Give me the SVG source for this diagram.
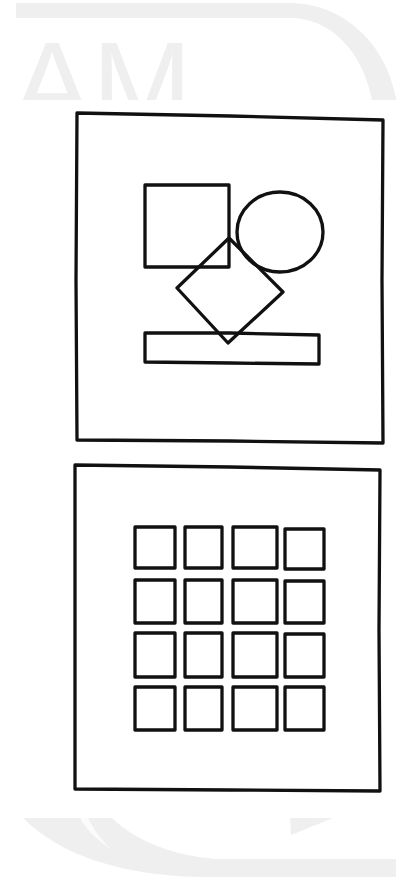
<svg xmlns="http://www.w3.org/2000/svg" width="396" height="877" viewBox="0 0 396 877">
<style>
.wm{fill:#efefef;stroke:none}
.ink{fill:none;stroke:#111;stroke-width:3.3;stroke-linejoin:round;stroke-linecap:round}
</style>
<defs>
<clipPath id="topclip"><rect x="0" y="0" width="396" height="100"/></clipPath>
</defs>
<rect width="396" height="877" fill="#ffffff"/>
<g id="watermark">
<path class="wm" d="M16 3 H290 C340 3 385 40 396 98 V100 H372 C362 50 330 18 290 18 H16 Z"/>
<g clip-path="url(#topclip)">
<text x="12" y="126" font-family="Liberation Sans, Arial, sans-serif" font-size="120" fill="#efefef">AM</text>
</g>
<path class="wm" d="M23 818 H112 C135 840 170 855 215 859 H396 V877 H200 C120 875 60 855 23 818 Z"/>
<path fill="#fbfbfb" d="M80 818 H88 C95 832 103 842 112 850 C100 842 88 832 80 818 Z"/>
<path class="wm" d="M290 818 H333 L291 835 Z"/>
</g>
<g id="frame-top">
<path class="ink" d="M77 113 L230 116 L383 120 L382 280 L383 443 L230 441 L77 440 L76 280 Z"/>
</g>
<g id="square">
<path class="ink" d="M145 185 L229 185 L229 267 L145 267 Z"/>
</g>
<g id="circle">
<ellipse class="ink" cx="280" cy="232" rx="43" ry="40"/>
</g>
<g id="diamond">
<path class="ink" d="M229 238 L283 292 L228 343 L177 288 Z"/>
</g>
<g id="bar">
<path class="ink" d="M145 333 L230 333 L319 335 L319 364 L230 363 L145 362 Z"/>
</g>
<g id="frame-bottom">
<path class="ink" d="M75 465 L230 467 L380 470 L379 630 L380 791 L230 790 L75 789 L75 630 Z"/>
</g>
<g id="grid">
<rect class="ink" x="135" y="527" width="40" height="41"/>
<rect class="ink" x="185" y="527" width="37" height="41"/>
<rect class="ink" x="233" y="527" width="44" height="41"/>
<rect class="ink" x="285" y="529" width="39" height="40"/>
<rect class="ink" x="135" y="580" width="40" height="43"/>
<rect class="ink" x="185" y="580" width="37" height="43"/>
<rect class="ink" x="233" y="580" width="44" height="43"/>
<rect class="ink" x="285" y="581" width="39" height="42"/>
<rect class="ink" x="135" y="633" width="40" height="44"/>
<rect class="ink" x="185" y="633" width="37" height="44"/>
<rect class="ink" x="233" y="633" width="44" height="44"/>
<rect class="ink" x="285" y="634" width="39" height="43"/>
<rect class="ink" x="135" y="687" width="40" height="43"/>
<rect class="ink" x="185" y="687" width="37" height="43"/>
<rect class="ink" x="233" y="687" width="44" height="43"/>
<rect class="ink" x="285" y="687" width="39" height="43"/>
</g>
</svg>
